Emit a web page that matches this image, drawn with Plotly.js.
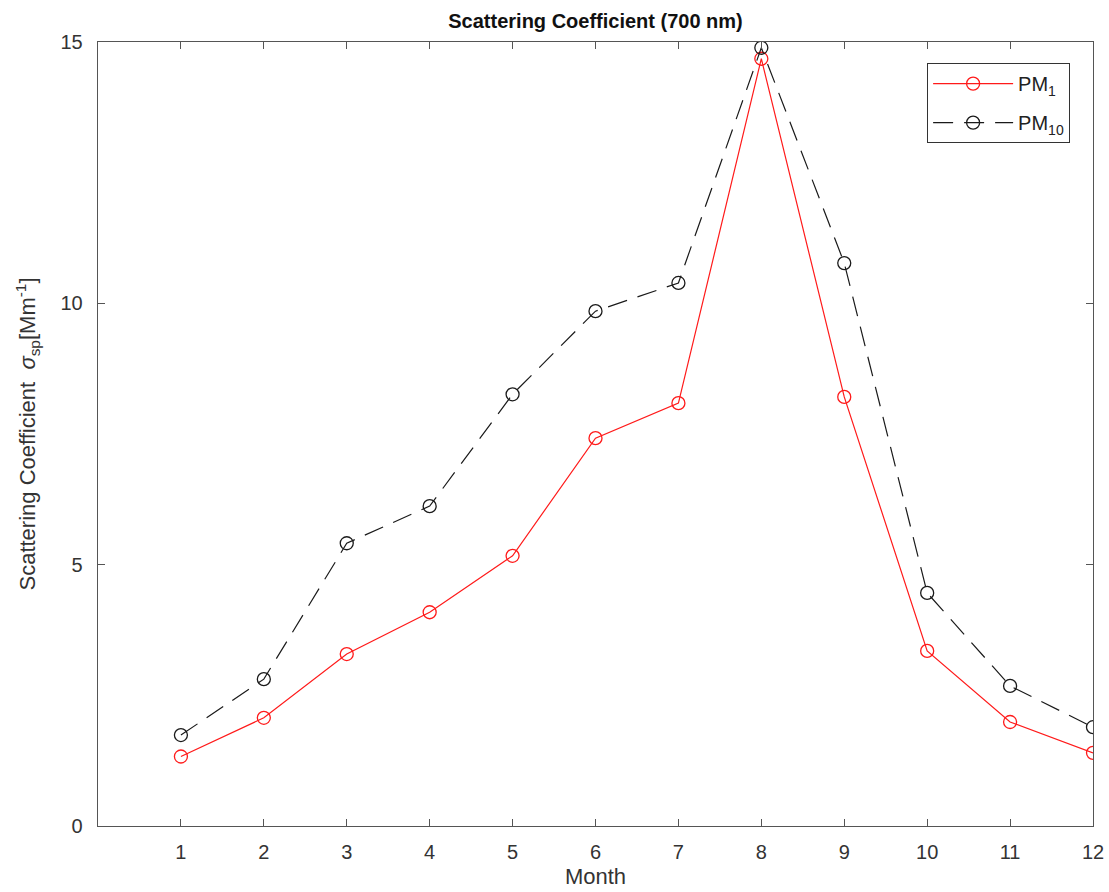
<!DOCTYPE html>
<html>
<head>
<meta charset="utf-8">
<script src="https://cdn.plot.ly/plotly-3.0.1.min.js"></script>
<style>html,body{margin:0;padding:0;background:#fff;}#chart{width:1109px;height:892px;}</style>
</head>
<body>
<div id="chart"></div>
<script>
const months = [1,2,3,4,5,6,7,8,9,10,11,12];
const pm1 = [1.33, 2.07, 3.29, 4.09, 5.17, 7.42, 8.09, 14.68, 8.21, 3.35, 1.99, 1.40];
const pm10 = [1.74, 2.81, 5.41, 6.12, 8.26, 9.85, 10.39, 14.89, 10.77, 4.46, 2.68, 1.89];
const xTicks = [1,2,3,4,5,6,7,8,9,10,11,12];
const yTicks = [0,5,10,15];

const font = 'Liberation Sans, Arial, Helvetica, sans-serif';
const axisColor = '#555555';

const traces = [
  {
    x: months, y: pm1, name: 'PM<sub>1</sub>', type: 'scatter', mode: 'lines+markers', legendgroup: 'a',
    line: {color: '#ff1a1a', width: 1.2},
    marker: {symbol: 'circle-open', size: 13, color: '#ff1a1a', line: {width: 1.3}}
  },
  {
    x: months, y: pm10, name: 'PM<sub>10</sub>', type: 'scatter', mode: 'lines+markers', legendgroup: 'b',
    line: {color: '#1a1a1a', width: 1.2, dash: '20px,11px'},
    marker: {symbol: 'circle-open', size: 13, color: '#1a1a1a', line: {width: 1.3}}
  }
];

const layout = {
  width: 1109, height: 892,
  margin: {l: 98, r: 16, t: 42, b: 66},
  paper_bgcolor: '#ffffff', plot_bgcolor: '#ffffff',
  font: {family: font, color: '#333333', size: 20},
  title: {text: '<b>Scattering Coefficient (700 nm)</b>', font: {size: 20, color: '#111111', family: font},
          x: 0.537, xanchor: 'center', y: 0.977, yanchor: 'middle'},
  showlegend: true,
  legend: {x: 0.977, xanchor: 'right', y: 0.973, yanchor: 'top',
           bordercolor: '#333333', borderwidth: 1, bgcolor: '#ffffff',
           font: {size: 20, color: '#222222', family: font}, itemwidth: 80, tracegroupgap: 10},
  xaxis: {
    range: [0, 12], tickvals: xTicks, ticktext: xTicks.map(String),
    ticks: 'inside', ticklen: 7, tickcolor: axisColor, tickwidth: 1,
    showline: true, linecolor: axisColor, linewidth: 1.3, mirror: 'ticks',
    showgrid: false, zeroline: false, ticklabelstandoff: 8,
    tickfont: {size: 20, color: '#333333'},
    title: {text: 'Month', font: {size: 22, color: '#333333'}, standoff: 6}
  },
  yaxis: {
    range: [0, 15], tickvals: yTicks, ticktext: yTicks.map(String),
    ticks: 'inside', ticklen: 7, tickcolor: axisColor, tickwidth: 1,
    showline: true, linecolor: axisColor, linewidth: 1.3, mirror: 'ticks',
    showgrid: false, zeroline: false, ticklabelstandoff: 10,
    tickfont: {size: 20, color: '#333333'},
    title: {text: 'Scattering Coefficient  <i>σ</i><sub>sp</sub>[Mm<sup>-1</sup>]', font: {size: 22, color: '#333333'}, standoff: 18}
  }
};

Plotly.newPlot('chart', traces, layout, {displayModeBar: false, staticPlot: true});
</script>
</body>
</html>
